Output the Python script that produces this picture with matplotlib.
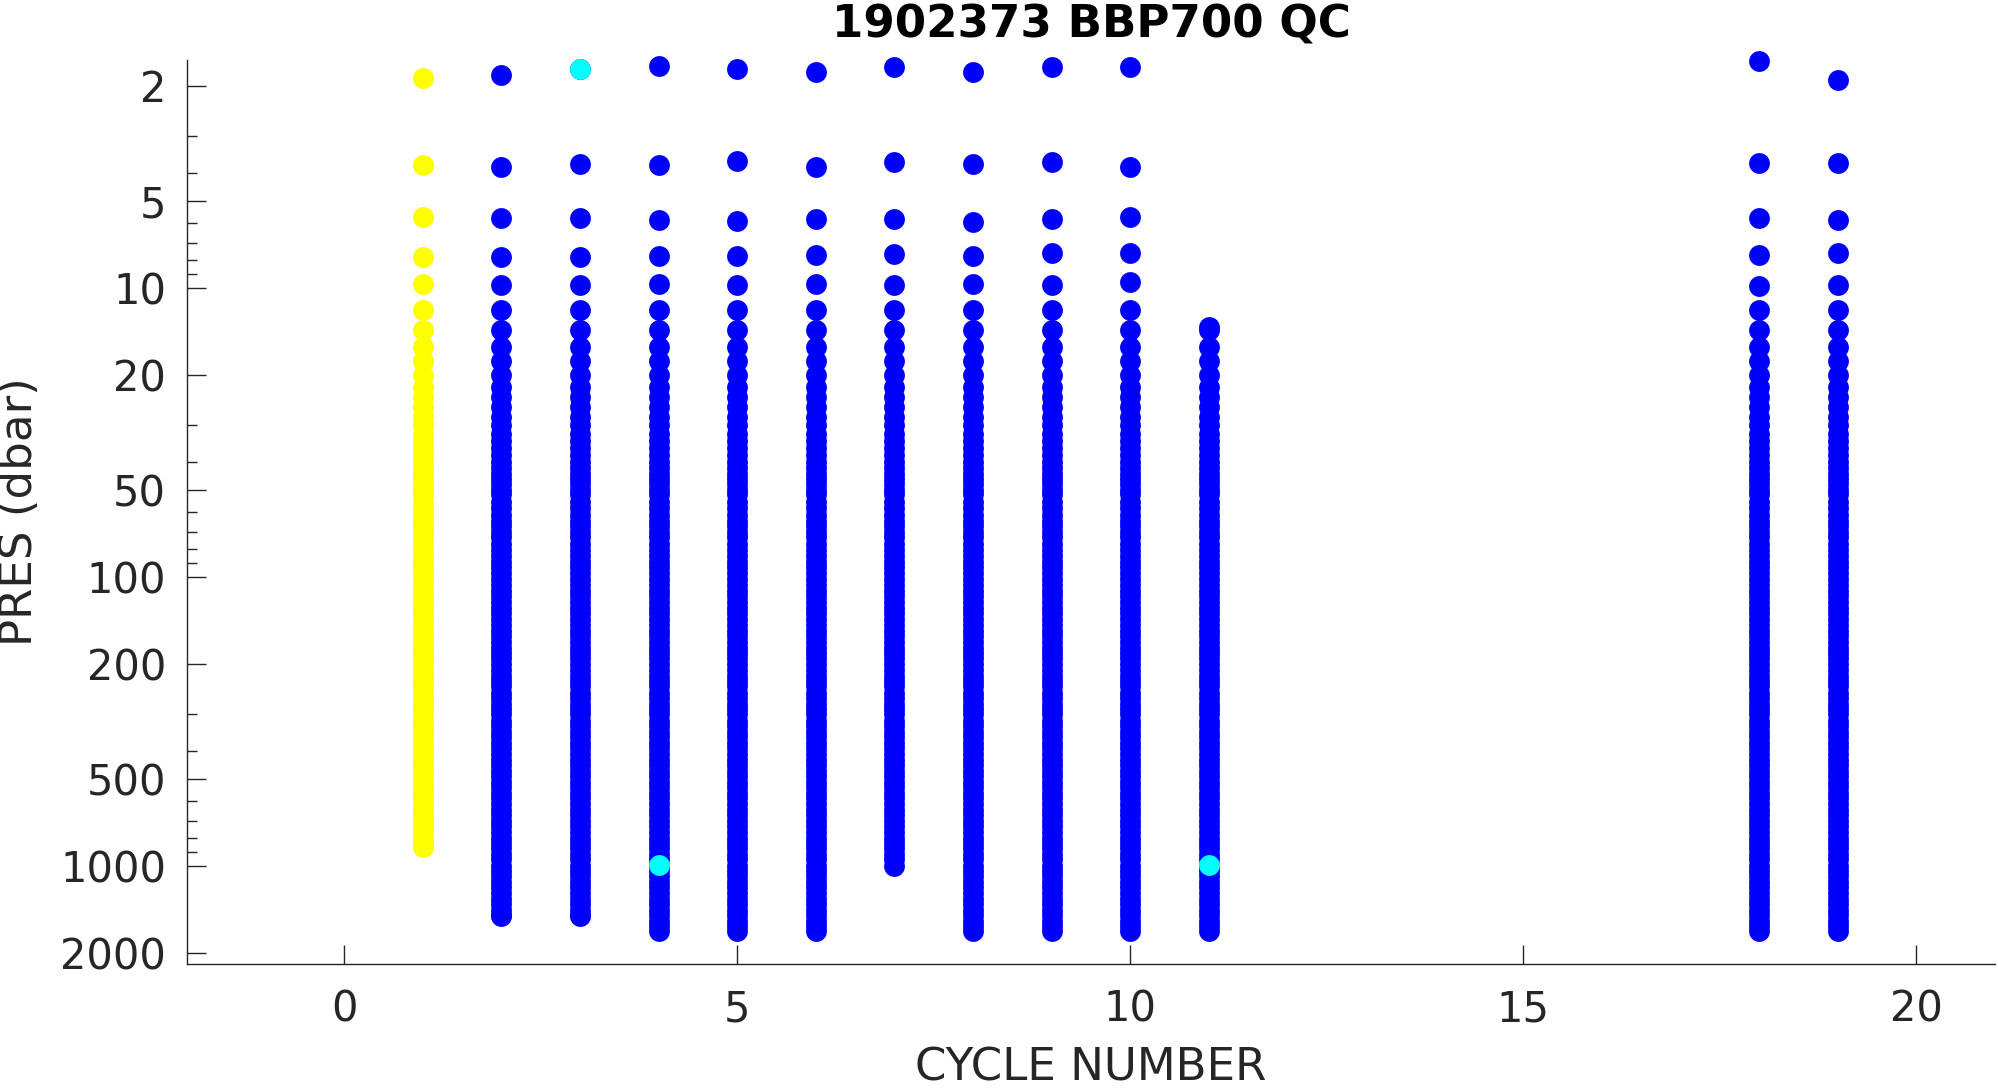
import matplotlib
matplotlib.use("Agg")
import matplotlib.pyplot as plt
from matplotlib.ticker import FixedLocator, FixedFormatter

# cycles in the float file and the first few (sparse) levels of each profile
cycles = [1, 2, 3, 4, 5, 6, 7, 8, 9, 10, 11, 18, 19]
top_pres = [
    [1.88, 3.78, 5.7, 7.83, 9.71],
    [1.84, 3.83, 5.75, 7.81, 9.79],
    [1.76, 3.75, 5.75, 7.83, 9.8],
    [1.71, 3.78, 5.83, 7.8, 9.75],
    [1.75, 3.64, 5.87, 7.8, 9.8],
    [1.79, 3.82, 5.8, 7.7, 9.7],
    [1.72, 3.67, 5.8, 7.67, 9.77],
    [1.79, 3.75, 5.94, 7.8, 9.7],
    [1.72, 3.67, 5.8, 7.6, 9.77],
    [1.72, 3.83, 5.7, 7.6, 9.6],
    [13.7],
    [1.64, 3.71, 5.75, 7.74, 9.84],
    [1.92, 3.71, 5.83, 7.6, 9.8],
]
bottom_pres = [860, 1490, 1490, 1690, 1690, 1690, 1000, 1690, 1690, 1690, 1690, 1690, 1690]
profile_qc = [3, 1, 1, 1, 1, 1, 1, 1, 1, 1, 1, 1, 1]

# sampling levels below ~10 dbar shared by the profiles
levels = [12, 14, 16, 18, 20, 22, 24, 26, 28, 30, 32, 34, 36, 38, 40, 42, 44, 46, 48, 50,
          52, 55, 58, 61, 64, 67, 70, 73, 77, 81, 85, 89, 93, 97, 102, 107, 112, 117, 122,
          128, 134, 140, 147, 154, 161, 168, 176, 184, 192, 200, 210, 220, 230, 240, 252,
          264, 276, 288, 300, 315, 330, 345, 360, 376, 392, 410, 430, 450, 470, 490, 512,
          535, 560, 585, 610, 640, 670, 700, 730, 765, 800, 835, 870, 910, 950, 1000, 1045,
          1090, 1140, 1190, 1245, 1300, 1360, 1420, 1485, 1550, 1620, 1690]

# single points flagged differently
flag4_cycle = [3, 4, 11]
flag4_pres = [1.76, 995, 995]

qc_colors = {1: '#0000FF', 3: '#FFFF00', 4: '#00FFFF'}

ytick_vals = [2, 5, 10, 20, 50, 100, 200, 500, 1000, 2000]
yminor_vals = [3, 4, 6, 7, 8, 9, 30, 40, 60, 70, 80, 90, 300, 400, 600, 700, 800, 900]
xtick_vals = [0, 5, 10, 15, 20]

grey = '#262626'
plt.rcParams['font.family'] = 'DejaVu Sans'

fig = plt.figure(figsize=(19.99, 10.88), dpi=100)
ax = fig.add_axes([0.0935, 0.114, 0.9045, 0.831])

msize = 15
for cyc, tops, bot, qc in zip(cycles, top_pres, bottom_pres, profile_qc):
    pres = list(tops) + [p for p in levels if max(tops) < p < bot] + [bot]
    ax.plot([cyc] * len(pres), pres, 'o', color=qc_colors[qc], ms=msize,
            mec='none', zorder=2, clip_on=False)

ax.plot(flag4_cycle, flag4_pres, 'o', color=qc_colors[4], ms=msize, mec='none',
        zorder=3, clip_on=False)

ax.set_yscale('log')
ax.set_ylim(2190, 1.63)
ax.set_xlim(-2, 21)

ax.yaxis.set_major_locator(FixedLocator(ytick_vals))
ax.yaxis.set_major_formatter(FixedFormatter([str(v) for v in ytick_vals]))
ax.yaxis.set_minor_locator(FixedLocator(yminor_vals))
ax.yaxis.set_minor_formatter(FixedFormatter([''] * len(yminor_vals)))
ax.set_xticks(xtick_vals)

for side in ['top', 'right']:
    ax.spines[side].set_visible(False)
for side in ['left', 'bottom']:
    ax.spines[side].set_color(grey)
    ax.spines[side].set_linewidth(1.0)

ax.tick_params(axis='both', which='major', direction='in', length=13.5, width=1.0,
               color=grey, labelcolor=grey, labelsize=30)
ax.tick_params(axis='y', which='minor', direction='in', length=7, width=1.0, color=grey)
ax.tick_params(axis='y', which='major', pad=15)
ax.tick_params(axis='x', which='major', pad=18)

ax.set_xlabel('CYCLE NUMBER', fontsize=32.5, color=grey, labelpad=11)
ax.set_ylabel('PRES (dbar)', fontsize=32.5, color=grey, labelpad=14)
ax.set_title('1902373 BBP700 QC', fontsize=32.5, fontweight='bold', color='black', pad=16)

fig.savefig('out.png', dpi=100)
